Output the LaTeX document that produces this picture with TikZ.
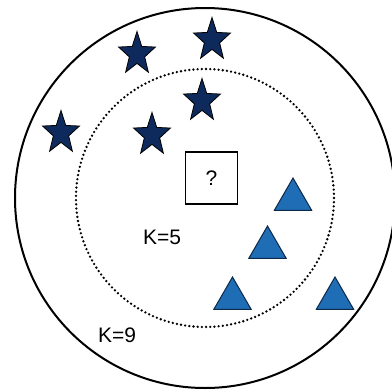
\documentclass[tikz,border=0pt]{standalone}
\usepackage{fontspec}
\setmainfont{Liberation Sans}
\usetikzlibrary{shapes.geometric}
\definecolor{navy}{HTML}{0E2A5C}
\definecolor{triblue}{HTML}{1F6DB5}
\definecolor{triedge}{HTML}{0B2A4A}
\tikzset{
  starpt/.style={star, star points=5, star point ratio=2.4, minimum size=45pt, inner sep=0pt,
    fill=navy, draw=black, line width=0.8pt, xscale=0.86},
  tript/.style={regular polygon, regular polygon sides=3, minimum size=43pt, inner sep=0pt,
    fill=triblue, draw=triedge, line width=1pt},
  lbl/.style={font=\fontsize{21}{24}\selectfont, inner sep=0pt},
  querybox/.style={draw=black, line width=1.8pt, minimum size=52pt, inner sep=0pt, fill=white},
}
\begin{document}
\begin{tikzpicture}[x=1pt,y=-1pt]
\useasboundingbox (0,0) rectangle (392,392);
\clip (0,0) rectangle (392,392);
\fill[white] (0,0) rectangle (392,392);
\coordinate (c) at (205,198);
\draw[line width=2pt] (c) circle[radius=190];
\draw[line width=2.6pt, line cap=round, dash pattern=on 0pt off 4.2pt] (c) circle[radius=129];
\node[starpt] (s1) at (137,54) {};
\node[starpt] (s2) at (212,40) {};
\node[starpt] (s3) at (202,101) {};
\node[starpt] (s4) at (61,133) {};
\node[starpt] (s5) at (152,135) {};
\node[querybox, lbl] (q) at (211.5,178) {?};
\node[tript] (t1) at (293,199.5) {};
\node[tript] (t2) at (267.5,247.5) {};
\node[tript] (t3) at (232.5,298.5) {};
\node[tript] (t4) at (335,298.5) {};
\node[lbl] (k5) at (162,237) {K=5};
\node[lbl] (k9) at (117,335) {K=9};
\end{tikzpicture}
\end{document}
